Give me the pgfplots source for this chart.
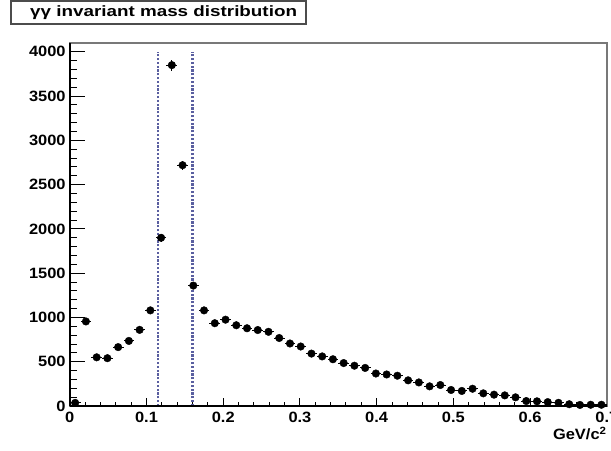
\documentclass[border=0pt]{standalone}
\usepackage{pgfplots}
\pgfplotsset{compat=1.18}
\usepackage{pgfplotstable}
\usepackage{fontspec}
\setmainfont{Liberation Sans}
\usepackage{graphicx}
\newcommand{\hs}[1]{\scalebox{1.1}[1]{#1}}
\definecolor{lc}{RGB}{90,95,160}
\definecolor{frm}{RGB}{120,120,120}

\pgfplotstableread{
x y ex ey
0.007 35 0.007 5.9
0.021 955 0.007 30.9
0.035 550 0.007 23.5
0.049 540 0.007 23.2
0.063 665 0.007 25.8
0.077 735 0.007 27.1
0.091 860 0.007 29.3
0.105 1080 0.007 32.9
0.119 1900 0.007 43.6
0.133 3850 0.007 62.0
0.147 2720 0.007 52.2
0.161 1360 0.007 36.9
0.175 1080 0.007 32.9
0.189 935 0.007 30.6
0.203 975 0.007 31.2
0.217 912 0.007 30.2
0.231 878 0.007 29.6
0.245 858 0.007 29.3
0.259 838 0.007 28.9
0.273 768 0.007 27.7
0.287 706 0.007 26.6
0.301 672 0.007 25.9
0.315 592 0.007 24.3
0.329 560 0.007 23.7
0.343 528 0.007 23.0
0.357 485 0.007 22.0
0.371 455 0.007 21.3
0.385 430 0.007 20.7
0.399 367 0.007 19.2
0.413 356 0.007 18.9
0.427 342 0.007 18.5
0.441 290 0.007 17.0
0.455 266 0.007 16.3
0.469 222 0.007 14.9
0.483 237 0.007 15.4
0.497 181 0.007 13.5
0.511 170 0.007 13.0
0.525 195 0.007 14.0
0.539 143 0.007 12.0
0.553 128 0.007 11.3
0.567 120 0.007 11.0
0.581 98 0.007 9.9
0.595 56 0.007 7.5
0.609 53 0.007 7.3
0.623 44 0.007 6.6
0.637 36 0.007 6.0
0.651 20 0.007 4.5
0.665 12 0.007 3.5
0.679 14 0.007 3.7
0.693 14 0.007 3.7
}\data

\begin{document}
\begin{tikzpicture}
\useasboundingbox (-69.8bp,-45bp) rectangle (541.2bp,406bp);
\begin{axis}[
  scale only axis, width=537bp, height=363bp,
  xmin=0, xmax=0.7, ymin=0, ymax=4100,
  axis line style={draw=frm, line width=1.4bp},
  xtick={0,0.1,0.2,0.3,0.4,0.5,0.6,0.7},
  xticklabels={\hs{0},\hs{0.1},\hs{0.2},\hs{0.3},\hs{0.4},\hs{0.5},\hs{0.6},\hs{0.7}},
  minor x tick num=4,
  ytick=\empty,
  xtick pos=bottom,
  tick align=inside,
  major tick length=8bp, minor tick length=4bp,
  tick style={black, line width=1bp},
  xticklabel style={font=\fontsize{15}{18}\selectfont\bfseries, inner sep=0pt, yshift=-5.5bp, anchor=north},
]
\addplot[draw=lc, line width=2.2bp, dash pattern=on 2.2bp off 1.6bp] coordinates {(0.115,0) (0.115,4000)};
\addplot[draw=lc, line width=2.2bp, dash pattern=on 2.2bp off 1.6bp] coordinates {(0.16,0) (0.16,4000)};
\addplot[only marks, mark=*, mark size=3.8bp, black,
  error bars/.cd, x dir=both, x explicit, y dir=both, y explicit, error mark=none,
  error bar style={line width=0.9bp, black}]
  table[x=x, y=y, x error=ex, y error=ey] {\data};
\end{axis}
\begin{axis}[
  scale only axis, width=537bp, height=363bp,
  xmin=0, xmax=0.7, ymin=0, ymax=4100,
  axis x line*=bottom, axis y line*=left,
  axis line style={black, line width=1.5bp, -},
  xtick=\empty,
  ytick={0,500,1000,1500,2000,2500,3000,3500,4000},
  yticklabels={\hs{0},\hs{500},\hs{1000},\hs{1500},\hs{2000},\hs{2500},\hs{3000},\hs{3500},\hs{4000}},
  minor y tick num=4,
  tick align=inside,
  major tick length=15bp, minor tick length=7bp,
  tick style={black, line width=1bp},
  yticklabel style={font=\fontsize{15}{18}\selectfont\bfseries, inner sep=0pt, xshift=-4bp, anchor=east},
]
\end{axis}
\draw[black!70, line width=1.3bp, fill=white] (-58.8bp,382bp) rectangle (236.2bp,405bp);
\node[anchor=west, inner sep=0pt, font=\fontsize{15}{18}\selectfont\bfseries] at (-39.8bp,393.5bp) {\scalebox{1.26}[1]{γγ invariant mass distribution}};
\node[anchor=north east, inner sep=0pt, font=\fontsize{15}{18}\selectfont\bfseries] at (537bp,-20.7bp) {\hs{GeV/c\textsuperscript{2}}};
\end{tikzpicture}
\end{document}
